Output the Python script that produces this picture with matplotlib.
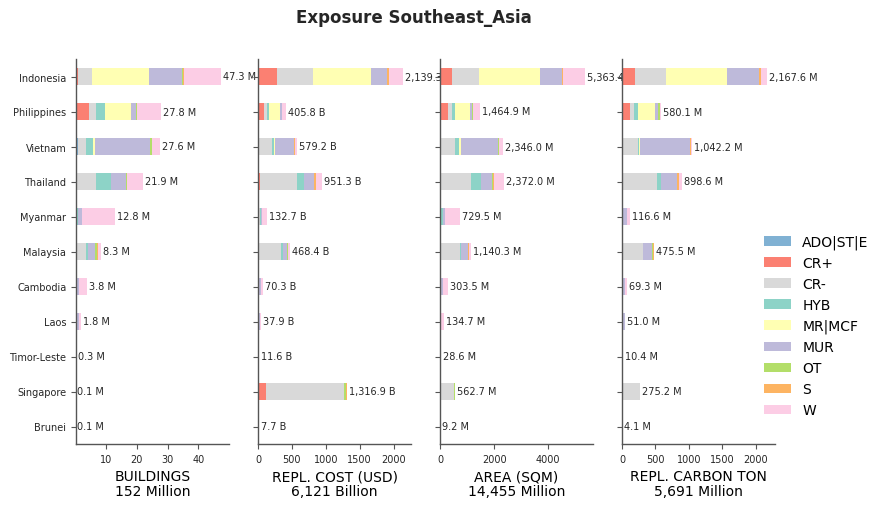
import matplotlib
matplotlib.use("Agg")
import matplotlib.pyplot as plt
import numpy as np

countries = ["Indonesia", "Philippines", "Vietnam", "Thailand", "Myanmar", "Malaysia",
             "Cambodia", "Laos", "Timor-Leste", "Singapore", "Brunei"]
categories = ["ADO|ST|E", "CR+", "CR-", "HYB", "MR|MCF", "MUR", "OT", "S", "W"]
colors = ["#80b1d3", "#fb8072", "#d9d9d9", "#8dd3c7", "#ffffb3", "#bebada",
          "#b3de69", "#fdb462", "#fccde5"]

# rows = categories, columns = countries
buildings = [
    [0.05, 0, 0.8, 0, 0, 0, 0, 0, 0, 0, 0],
    [0.75, 4.4, 0, 0.1, 0, 0, 0, 0, 0, 0.02, 0],
    [4.6, 2.3, 2.7, 6.6, 0.1, 3.6, 0.3, 0.1, 0.1, 0.08, 0.1],
    [0, 2.9, 2.3, 4.9, 1.0, 0.5, 0, 0, 0, 0, 0],
    [18.6, 8.5, 0.6, 0, 0, 0, 0, 0, 0, 0, 0],
    [10.8, 1.5, 17.9, 4.9, 1.3, 2.4, 1.0, 1.1, 0.1, 0, 0],
    [0.1, 0.6, 0.7, 0.3, 0, 0.6, 0.1, 0, 0, 0, 0],
    [0.3, 0, 0, 0, 0, 0.2, 0, 0, 0, 0, 0],
    [12.1, 7.6, 2.6, 5.1, 10.4, 1.0, 2.4, 0.6, 0.1, 0, 0],
]
repl_cost = [
    [0] * 11,
    [278, 85, 0, 25, 0, 0, 0, 0, 0, 114, 0],
    [537, 44, 204, 551, 35, 338, 10, 2.9, 4, 1149.9, 7.7],
    [0, 30, 25, 104, 15, 32, 5, 0, 0, 0, 0],
    [848, 164, 19, 0, 0, 0, 0, 0, 0, 0, 0],
    [238, 25, 283, 139, 8, 60, 25, 25, 4, 0, 0],
    [0, 10, 0, 10, 0, 8, 0, 0, 0, 39, 0],
    [30, 0, 20, 25, 0, 8, 0, 0, 0, 14, 0],
    [208.3, 47.8, 28.2, 97.3, 74.7, 22.4, 30.3, 10, 3.6, 0, 0],
]
area = [
    [0, 0, 10, 0, 0, 0, 0, 0, 0, 0, 0],
    [437, 288, 0, 50, 0, 0, 0, 0, 0, 10, 0],
    [1010, 149, 539, 1098, 37, 736, 40, 0, 10, 522, 9.2],
    [0, 112, 150, 374, 75, 50, 0, 0, 0, 0, 0],
    [2243, 561, 74, 0, 0, 0, 0, 0, 0, 0, 0],
    [833, 75, 1372, 398, 63, 249, 70, 50, 10, 0, 0],
    [0, 37, 30, 37, 0, 15, 10, 0, 0, 25.7, 0],
    [37, 0, 20, 37, 0, 40, 0, 0, 0, 5, 0],
    [803.4, 242.9, 151, 378, 554.5, 50.3, 183.5, 84.7, 8.6, 0, 0],
]
carbon = [
    [0] * 11,
    [191, 116, 0, 20, 0, 0, 0, 0, 0, 0, 0],
    [466, 60, 236, 502, 10, 311, 10, 0, 4, 270.2, 4.1],
    [0, 60, 25, 60, 10, 10, 0, 0, 0, 0, 0],
    [918, 256, 15, 0, 0, 0, 0, 0, 0, 0, 0],
    [466, 45, 742, 241, 50, 131, 30, 45, 4, 0, 0],
    [0, 25, 0, 5, 0, 15, 0, 0, 0, 5, 0],
    [30, 0, 15, 30, 0, 5, 0, 0, 0, 0, 0],
    [96.6, 18.1, 9.2, 40.6, 46.6, 3.5, 29.3, 6, 2.4, 0, 0],
]

metrics = [
    ("BUILDINGS", buildings, "M", "Million"),
    ("REPL. COST (USD)", repl_cost, "B", "Billion"),
    ("AREA (SQM)", area, "M", "Million"),
    ("REPL. CARBON TON", carbon, "M", "Million"),
]

title = "Exposure Southeast_Asia"

fig = plt.figure(figsize=(8.84, 5.10), dpi=100)
edge = "#555555"
txt = "#262626"

lefts = [76, 258, 440, 622]
W_PX, H_FIG = 884, 510
y = np.arange(len(countries))
handles = None
for i, (name, data, unit, big) in enumerate(metrics):
    ax = fig.add_axes([lefts[i] / W_PX, 65 / H_FIG, 153 / W_PX, 385 / H_FIG])
    arr = np.array(data, dtype=float)
    left = np.zeros(len(countries))
    hs = []
    for c, cat in enumerate(categories):
        h = ax.barh(y, arr[c], left=left, height=0.5, color=colors[c], label=cat)
        hs.append(h)
        left = left + arr[c]
    if handles is None:
        handles = hs
    totals = arr.sum(axis=0)
    for yi, t in zip(y, totals):
        ax.annotate(f"{t:,.1f} {unit}", xy=(t, yi), xytext=(2, 0),
                    textcoords="offset pixels", va="center", ha="left",
                    fontsize=7, color=txt, annotation_clip=False)
    ax.set_ylim(len(countries) - 0.5, -0.5)
    xmax = totals.max() * 1.055
    if i == 0:
        ax.set_xlim(0.3, xmax)
    else:
        ax.set_xlim(0, xmax)
    ax.set_yticks(y)
    if i == 0:
        ax.set_yticklabels(countries)
    else:
        ax.set_yticklabels([])
    ax.tick_params(axis="both", labelsize=7, colors=txt, length=3.5, width=0.8,
                   color=edge)
    for s in ["top", "right"]:
        ax.spines[s].set_visible(False)
    for s in ["left", "bottom"]:
        ax.spines[s].set_color(edge)
        ax.spines[s].set_linewidth(1.0)
    ax.set_xlabel(f"{name}\n{totals.sum():,.0f} {big}", fontsize=10, color="black",
                  labelpad=4, linespacing=1.1)

fig.text(413.5 / W_PX, 1 - 18 / H_FIG, title, ha="center", va="center",
         fontsize=12, fontweight="bold", color=txt)

fig.legend(handles, categories, loc="center left", bbox_to_anchor=(751 / W_PX, 1 - 327 / H_FIG),
           frameon=False, fontsize=10)

fig.savefig("out.png", dpi=100)
